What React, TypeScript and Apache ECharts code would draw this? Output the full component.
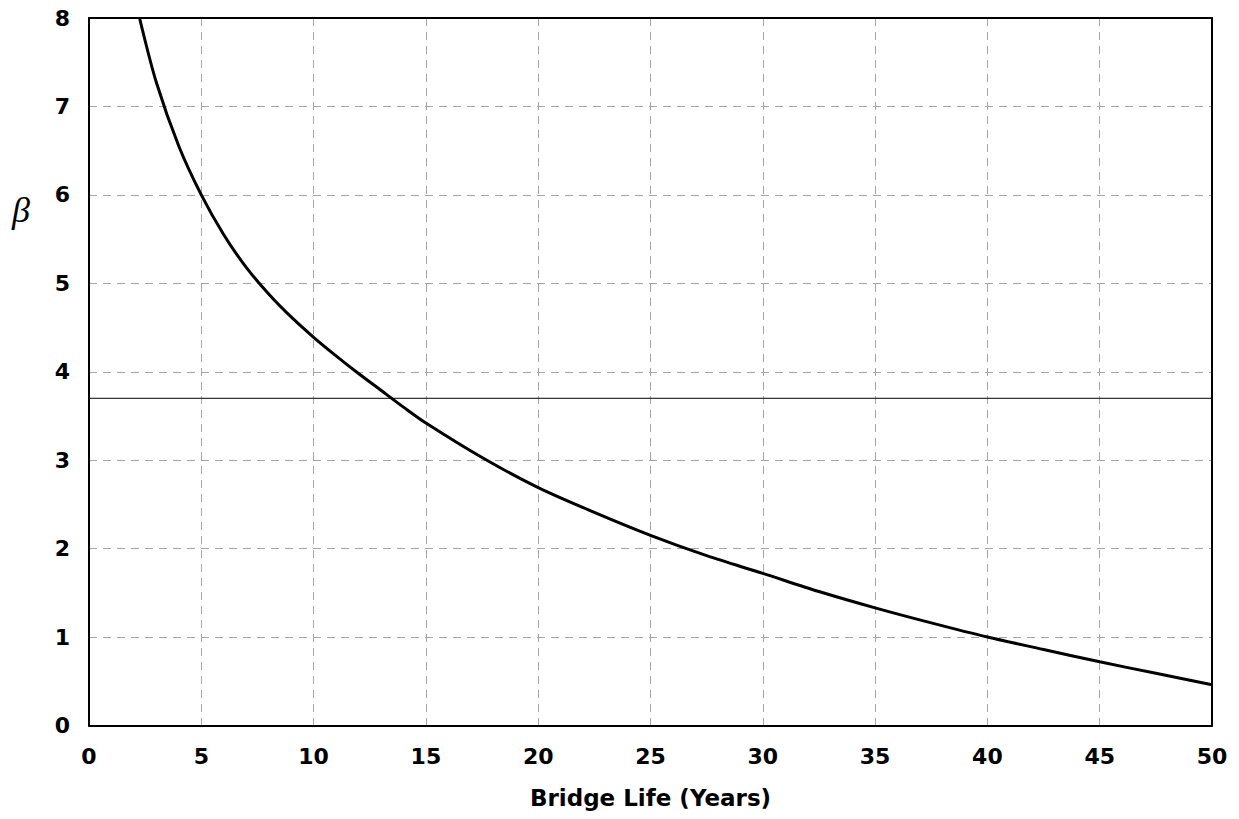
import React, { useEffect, useRef } from "react";
import * as echarts from "echarts";

const bridgeLife = [2.25, 3, 4, 5, 6, 7, 8, 9, 10, 11, 12, 13, 14, 15, 17.5, 20, 22.5, 25, 27.5, 30, 32.5, 35, 37.5, 40, 42.5, 45, 47.5, 50];
const betaValues = [8.0, 7.27, 6.55, 6.0, 5.55, 5.18, 4.88, 4.62, 4.39, 4.18, 3.98, 3.79, 3.6, 3.42, 3.03, 2.69, 2.41, 2.15, 1.92, 1.72, 1.515, 1.33, 1.16, 1.0, 0.86, 0.72, 0.59, 0.46];
const targetBeta = 3.7;
const xTicks = [0, 5, 10, 15, 20, 25, 30, 35, 40, 45, 50];
const yTicks = [0, 1, 2, 3, 4, 5, 6, 7, 8];

const FONT = "DejaVu Sans";

export default function App() {
  const ref = useRef<HTMLDivElement>(null);
  useEffect(() => {
    if (!ref.current) return;
    const chart = echarts.init(ref.current, null, { renderer: "svg" });
    const curve = bridgeLife.map((x, i) => [x, betaValues[i]]);
    const gridDash = { color: "#a6a6a6", width: 1, type: [8, 6] as any };
    const labelStyle = { color: "#000", fontFamily: FONT, fontWeight: "bold" as const, fontSize: 22 };
    chart.setOption({
      animation: false,
      backgroundColor: "#fff",
      grid: { left: 89, top: 18, right: 27, bottom: 93.5, containLabel: false },
      xAxis: [
        {
          type: "value",
          min: xTicks[0],
          max: xTicks[xTicks.length - 1],
          interval: 5,
          name: "Bridge Life (Years)",
          nameLocation: "middle",
          nameGap: 61,
          nameTextStyle: { color: "#000", fontFamily: FONT, fontWeight: "bold", fontSize: 23 },
          axisLine: { show: true, onZero: false, lineStyle: { color: "#000", width: 2 } },
          axisTick: { show: false },
          axisLabel: { ...labelStyle, margin: 20 },
          splitLine: { show: true, lineStyle: gridDash },
        },
        {
          type: "value",
          position: "top",
          min: 0,
          max: 50,
          axisLine: { show: true, onZero: false, lineStyle: { color: "#000", width: 2 } },
          axisTick: { show: false },
          axisLabel: { show: false },
          splitLine: { show: false },
        },
      ],
      yAxis: [
        {
          type: "value",
          min: yTicks[0],
          max: yTicks[yTicks.length - 1],
          interval: 1,
          axisLine: { show: true, onZero: false, lineStyle: { color: "#000", width: 2 } },
          axisTick: { show: false },
          axisLabel: { ...labelStyle, margin: 19 },
          splitLine: { show: true, lineStyle: gridDash },
        },
        {
          type: "value",
          position: "right",
          min: 0,
          max: 8,
          axisLine: { show: true, onZero: false, lineStyle: { color: "#000", width: 2 } },
          axisTick: { show: false },
          axisLabel: { show: false },
          splitLine: { show: false },
        },
      ],
      graphic: [
        {
          type: "text",
          left: 12,
          top: 192,
          style: {
            text: "β",
            fontFamily: "Liberation Serif",
            fontStyle: "italic",
            fontSize: 36,
            fill: "#000",
          },
        },
      ],
      series: [
        {
          type: "line",
          data: [
            [xTicks[0], targetBeta],
            [xTicks[xTicks.length - 1], targetBeta],
          ],
          symbol: "none",
          lineStyle: { color: "#000", width: 1 },
          silent: true,
        },
        {
          type: "line",
          data: curve,
          symbol: "none",
          smooth: 0.3,
          lineStyle: { color: "#000", width: 3 },
          silent: true,
        },
      ],
    });
    return () => chart.dispose();
  }, []);
  return <div ref={ref} style={{ position: "fixed", left: 0, top: 0, width: 1239, height: 819 }} />;
}
